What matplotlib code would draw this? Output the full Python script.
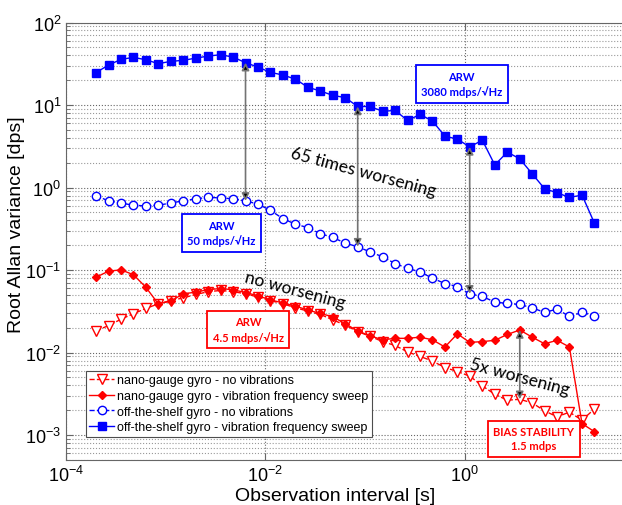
import numpy as np
import matplotlib
matplotlib.use("Agg")
import matplotlib.pyplot as plt
from matplotlib.ticker import FixedLocator, LogLocator, NullLocator, NullFormatter, LogFormatterSciNotation

plt.rcParams['font.family'] = 'Liberation Sans'
plt.rcParams['mathtext.fontset'] = 'custom'
plt.rcParams['mathtext.rm'] = 'Liberation Sans'
plt.rcParams['mathtext.it'] = 'Liberation Sans:italic'
plt.rcParams['mathtext.bf'] = 'Liberation Sans:bold'

# observation interval [s]
tau = [2.00e-4, 2.67e-4, 3.56e-4, 4.74e-4, 6.32e-4, 8.43e-4,
       1.12e-3, 1.50e-3, 2.00e-3, 2.67e-3, 3.56e-3, 4.74e-3, 6.32e-3, 8.43e-3,
       1.12e-2, 1.50e-2, 2.00e-2, 2.67e-2, 3.56e-2, 4.74e-2, 6.32e-2, 8.43e-2,
       0.112, 0.150, 0.200, 0.267, 0.356, 0.474, 0.632, 0.843,
       1.12, 1.50, 2.00, 2.67, 3.56, 4.74, 6.32, 8.43,
       11.2, 15.0, 20.0]

# root allan variance [dps]
nano_novib = [0.0185, 0.0212, 0.0254, 0.0296, 0.0343, 0.039, 0.0428, 0.046, 0.0507, 0.0547,
              0.0567, 0.0547, 0.0518, 0.047, 0.0428, 0.039, 0.035, 0.0318, 0.029, 0.025,
              0.0215, 0.018, 0.0158, 0.0136, 0.0122, 0.0102, 0.0090, 0.0079, 0.0066, 0.0059,
              0.0052, 0.00395, 0.00313, 0.00265, 0.00272, 0.00246, 0.00197, 0.00167, 0.0019, 0.00152,
              0.00208]
nano_vib = [0.082, 0.097, 0.1007, 0.088, 0.062, 0.039, 0.042, 0.0516, 0.054, 0.058,
            0.0598, 0.0577, 0.0535, 0.0488, 0.0436, 0.040, 0.0366, 0.0328, 0.0298, 0.0272,
            0.0224, 0.0183, 0.016, 0.0143, 0.0149, 0.0149, 0.0154, 0.0143, 0.0117, 0.0169,
            0.0133, 0.0136, 0.0141, 0.0166, 0.0188, 0.0154, 0.0128, 0.0141, 0.0117, 0.00138,
            0.0011]
off_novib = [0.796, 0.69, 0.65, 0.61, 0.60, 0.61, 0.65, 0.69, 0.73, 0.76,
             0.75, 0.73, 0.69, 0.63, 0.53, 0.42, 0.36, 0.327, 0.276, 0.249,
             0.212, 0.192, 0.166, 0.145, 0.12, 0.105, 0.095, 0.0798, 0.0687, 0.0632,
             0.0516, 0.0479, 0.041, 0.0394, 0.0383, 0.0349, 0.0307, 0.0337, 0.0274, 0.0307,
             0.028]
off_vib = [24.7, 30.5, 35.7, 37.8, 35.4, 31.7, 33.8, 34.8, 37.0, 39.2,
           40.7, 38.1, 32.6, 28.8, 24.9, 23.1, 20.6, 16.4, 14.8, 13.1,
           12.3, 9.6, 9.6, 8.4, 8.6, 6.5, 7.7, 6.4, 4.2, 3.86,
           3.11, 3.75, 1.88, 2.69, 2.23, 1.47, 0.967, 0.865, 0.76, 0.81,
           0.369]

labels = ['nano-gauge gyro - no vibrations',
          'nano-gauge gyro - vibration frequency sweep',
          'off-the-shelf gyro - no vibrations',
          'off-the-shelf gyro - vibration frequency sweep']

fig = plt.figure(figsize=(6.22, 5.06), dpi=100)
ax = fig.add_axes([66/622, 1-461/506, 556/622, 437.5/506])

ax.loglog(tau, nano_novib, 'v--', color='red', mfc='white', ms=6.5, lw=1, mew=1, label=labels[0])
ax.loglog(tau, nano_vib, 'D-', color='red', mfc='red', ms=4.5, lw=1, label=labels[1])
ax.loglog(tau, off_novib, 'o--', color='blue', mfc='white', ms=6, lw=1, mew=1, label=labels[2])
ax.loglog(tau, off_vib, 's-', color='blue', mfc='blue', ms=5.5, lw=1, label=labels[3])

ax.set_xlim(1e-4, 10**1.577)
ax.set_ylim(5e-4, 100)

ax.xaxis.set_major_locator(FixedLocator([1e-4, 1e-2, 1, 1e2]))
ax.xaxis.set_major_formatter(LogFormatterSciNotation())
ax.xaxis.set_minor_locator(NullLocator())
ax.yaxis.set_major_locator(LogLocator(base=10, numticks=20))
ax.yaxis.set_minor_locator(LogLocator(base=10, subs=np.arange(2, 10), numticks=20))
ax.yaxis.set_minor_formatter(NullFormatter())

ax.grid(True, which='major', axis='both', ls=':', color='0.4', lw=0.8)
ax.grid(True, which='minor', axis='y', ls=':', color='0.6', lw=0.8)
ax.tick_params(which='both', direction='in', top=True, right=False, labelsize=13, color='0.4')
ax.tick_params(which='major', length=5)
ax.tick_params(which='minor', length=3)
for s in ['left', 'bottom', 'top']:
    ax.spines[s].set_color('0.4')
ax.spines['right'].set_visible(False)

ax.set_xlabel('Observation interval [s]', fontsize=14)
ax.set_ylabel('Root Allan variance [dps]', fontsize=14)
ax.xaxis.set_label_coords(0.484, -0.062)
ax.yaxis.set_label_coords(-0.074, 0.539)

# arrows between curves
arr = dict(arrowstyle='<|-|>', ec='0.45', fc='black', lw=1.2, mutation_scale=11,
           shrinkA=0, shrinkB=0)
for i in [12, 21, 30]:
    ax.annotate('', xy=(tau[i], off_vib[i]), xytext=(tau[i], off_novib[i]), arrowprops=arr)
ax.annotate('', xy=(tau[34], nano_vib[34]), xytext=(tau[34], nano_novib[34]), arrowprops=arr)

afont = ['Lato', 'DejaVu Sans']
ax.text(0.534, 0.658, '65 times worsening', transform=ax.transAxes, rotation=-15,
        ha='center', va='center', fontsize=12.5, family=afont)
ax.text(0.412, 0.390, 'no worsening', transform=ax.transAxes, rotation=-15,
        ha='center', va='center', fontsize=12.5, family=afont)
ax.text(0.8165, 0.190, '5x worsening', transform=ax.transAxes, rotation=-15,
        ha='center', va='center', fontsize=12.5, family=afont)

def box(x, y, s, c):
    ax.text(x, y, s, transform=ax.transAxes, ha='center', va='center', fontsize=8,
            fontweight='bold', color=c, family=afont, linespacing=1.35,
            bbox=dict(boxstyle='square,pad=0.5', fc='white', ec=c, lw=1.3))

box(0.712, 0.859, 'ARW\n3080 mdps/\u221aHz', 'blue')
box(0.2797, 0.519, 'ARW\n50 mdps/\u221aHz', 'blue')
box(0.328, 0.298, 'ARW\n4.5 mdps/\u221aHz', 'red')
box(0.841, 0.0487, 'BIAS STABILITY\n1.5 mdps', 'red')

leg = ax.legend(loc='lower left', bbox_to_anchor=(0.0354, 0.052), borderaxespad=0,
                fontsize=9, numpoints=1, handlelength=2.0, handletextpad=0.2,
                labelspacing=0.3, borderpad=0.3, fancybox=False, framealpha=1)
leg.get_frame().set_edgecolor('0.3')
leg.get_frame().set_linewidth(0.8)

fig.savefig('out.png', dpi=100)
